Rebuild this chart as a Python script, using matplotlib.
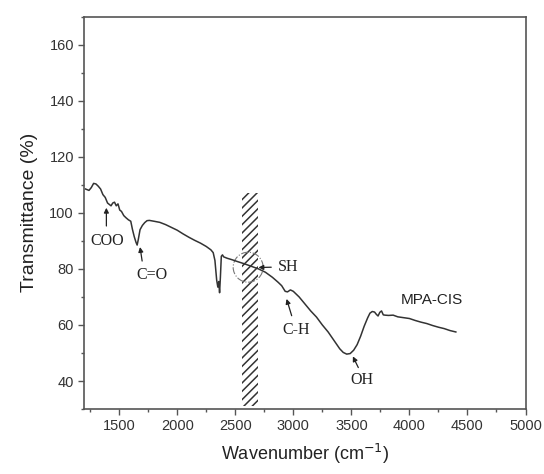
import numpy as np
import matplotlib
matplotlib.use("Agg")
import matplotlib.pyplot as plt
from matplotlib.patches import Rectangle, Ellipse
from matplotlib.ticker import MultipleLocator

# FTIR spectrum of MPA-CIS
wavenumber = [1210, 1240, 1260, 1280, 1300, 1320, 1340, 1360, 1380, 1400, 1415, 1430,
              1445, 1460, 1475, 1490, 1505, 1520, 1540, 1560, 1580, 1600, 1615, 1630,
              1645, 1655, 1665, 1680, 1700, 1720, 1740, 1760, 1800, 1850, 1900, 1950,
              2000, 2050, 2100, 2150, 2200, 2250, 2290, 2310, 2325, 2340, 2350, 2358,
              2365, 2372, 2380, 2390, 2400, 2430, 2470, 2520, 2580, 2640, 2700, 2760,
              2820, 2870, 2900, 2930, 2950, 2975, 3000, 3050, 3100, 3150, 3200, 3250,
              3300, 3350, 3400, 3430, 3460, 3490, 3520, 3550, 3580, 3610, 3640, 3660,
              3680, 3700, 3715, 3730, 3745, 3760, 3775, 3790, 3820, 3860, 3900, 3950,
              4000, 4050, 4100, 4150, 4200, 4250, 4300, 4350, 4400]
transmittance = [108.5, 108, 109, 110.5, 110.3, 109.5, 108.5, 106.5, 105.5, 103.5, 103, 102.5,
                 103.5, 103.8, 102.5, 103.2, 101, 100.5, 99, 98.2, 97.5, 97, 94, 91.5,
                 89.5, 88.5, 90.5, 94, 95.5, 96.5, 97.2, 97.3, 97, 96.6, 95.8, 94.8,
                 93.8, 92.5, 91.3, 90.2, 89.2, 88, 86.8, 85.8, 83, 76, 73.5, 75.5,
                 71.5, 77, 84.5, 85, 84.3, 83.8, 83.3, 82.6, 81.8, 80.9, 80, 78.8,
                 77, 75.2, 74, 72, 71.8, 72.5, 72, 70, 67.5, 65, 62.8, 60,
                 57.5, 54.5, 51.5, 50.2, 49.6, 49.8, 51, 53, 56, 59.5, 62.5, 64.2,
                 64.8, 64.6, 63.8, 63.2, 64.5, 65, 63.6, 63.5, 63.4, 63.5, 62.9, 62.6,
                 62.3, 61.6, 61, 60.5, 59.8, 59.2, 58.7, 58, 57.5]

# band labels: text, text position, arrow tail, arrow tip
bands = ["COO", "C=O", "C-H", "OH"]
band_text = [(1395, 90), (1780, 77.7), (3027, 58.2), (3592, 40.3)]
band_tail = [(1390, 95.3), (1698, 82.8), (2986, 63.3), (3560, 44.8)]
band_tip = [(1390, 101.8), (1680, 87.8), (2942, 69.3), (3513, 48.8)]

plt.rcParams['font.family'] = ['Liberation Sans', 'DejaVu Sans']
plt.rcParams['hatch.linewidth'] = 1.1

fig = plt.figure(figsize=(5.44, 4.74), dpi=100)
ax = fig.add_axes([0.155, 0.137, 0.811, 0.828])

ax.plot(wavenumber, transmittance, color='#333333', lw=1.1)

# hatched band around the SH region
ax.add_patch(Rectangle((2555, 31), 142, 76, facecolor='none', edgecolor='#333333',
                       lw=0, hatch='////'))
ax.add_patch(Ellipse((2611, 80.6), 258, 10.7, facecolor='none', edgecolor='#777777',
                     lw=0.8, ls='-.'))

arrow = dict(arrowstyle='-|>', color='#222222', lw=0.9, mutation_scale=7,
             shrinkA=0, shrinkB=0)
for name, pos, tail, tip in zip(bands, band_text, band_tail, band_tip):
    ax.text(pos[0], pos[1], name, ha='center', va='center',
            family='Liberation Serif', fontsize=11.5, color='#222222')
    ax.annotate("", xy=tip, xytext=tail, arrowprops=arrow)

ax.annotate("", xy=(2700, 80.5), xytext=(2810, 80.6), arrowprops=arrow)
ax.text(2868, 80.6, "SH", ha='left', va='center',
        family='Liberation Serif', fontsize=11.5, color='#222222')

ax.text(3929, 69, "MPA-CIS", fontsize=11, color='#222222', ha='left', va='center')

ax.set_xlim(1200, 5000)
ax.set_ylim(30, 170)
ax.xaxis.set_minor_locator(MultipleLocator(250))
ax.yaxis.set_minor_locator(MultipleLocator(10))
ax.set_xticks([1500, 2000, 2500, 3000, 3500, 4000, 4500, 5000])
ax.set_yticks([40, 60, 80, 100, 120, 140, 160])

ax.tick_params(which='both', direction='out', color='#555555', labelcolor='#333333',
               labelsize=10.5)
ax.tick_params(which='major', length=4, width=1)
ax.tick_params(which='minor', length=2.5, width=1)
for s in ax.spines.values():
    s.set_color('#555555')
    s.set_linewidth(1.2)

ax.set_xlabel("Wavenumber (cm$^{-1}$)", fontsize=13, color='#222222', labelpad=6)
ax.set_ylabel("Transmittance (%)", fontsize=14, color='#222222', labelpad=8)

fig.savefig("out.png", dpi=100)
